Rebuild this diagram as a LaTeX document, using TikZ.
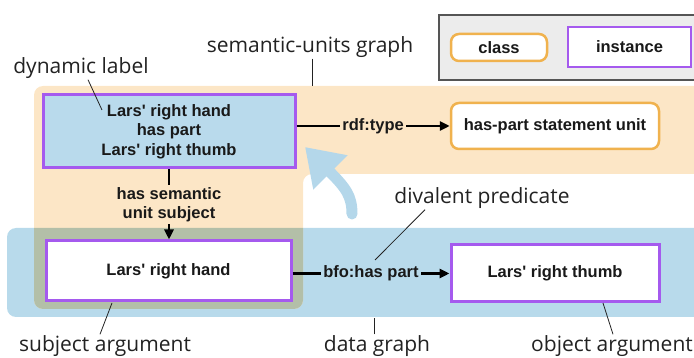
\documentclass[tikz,border=0pt]{standalone}
\usepackage{fontspec}
\setmainfont{Liberation Sans}
\newfontfamily\annfont{Open Sans}
\usetikzlibrary{arrows.meta,%
		positioning}

\definecolor{peach}{HTML}{FCE6C6}
\definecolor{datablue}{HTML}{B8DAEB}
\definecolor{overlapgreen}{HTML}{B3BFA8}
\definecolor{unitblue}{HTML}{B9DAEC}
\definecolor{instpurple}{HTML}{A55AEE}
\definecolor{classorange}{HTML}{F0B24E}
\definecolor{arrowblue}{HTML}{B4D7EA}
\definecolor{legendgrey}{HTML}{ECECEC}
\definecolor{legendedge}{HTML}{555555}
\definecolor{anntext}{HTML}{222222}

\begin{document}
\begin{tikzpicture}[x=1pt,y=-1pt,
  every node/.style={font=\fontsize{16.5}{19.5}\selectfont\bfseries,align=center,inner sep=0pt,text=black!90},
  classbox/.style={draw=classorange,line width=2.5pt,rounded corners=8pt,fill=white},
  instbox/.style={draw=instpurple,line width=3pt,fill=white},
  edgelab/.style={inner sep=2pt},
  annot/.style={font=\annfont\fontsize{21}{23}\selectfont,text=anntext,inner sep=1pt},
  leader/.style={line width=0.8pt,draw=anntext},
  linkarrow/.style={line width=2.5pt,-{Triangle[length=10pt,width=9pt]}}]

  \useasboundingbox (0,0) rectangle (694,358);
  \clip (0,0) rectangle (694,358);

  % data graph and semantic-units graph
  \fill[datablue,rounded corners=9pt] (7,228) rectangle (720,317);
  \fill[peach,rounded corners=9pt] (34,86) -- (720,86) -- (720,174) -- (303,174) -- (303,309) -- (34,309) -- cycle;
  \begin{scope}
    \clip[rounded corners=9pt] (7,228) rectangle (720,317);
    \fill[overlapgreen,rounded corners=9pt] (34,86) -- (720,86) -- (720,174) -- (303,174) -- (303,309) -- (34,309) -- cycle;
  \end{scope}

  % legend
  \draw[fill=legendgrey,draw=legendedge,line width=1.5pt] (439,15) rectangle (720,80);
  \node[classbox,minimum width=96pt,minimum height=27pt] (legclass) at (499,47.5) {class};
  \node[instbox,line width=2pt,minimum width=123pt,minimum height=40pt] (leginst) at (629.5,47) {instance};

  % curved arrow
  \draw[line width=11pt,arrowblue,line cap=round,-{Triangle[length=36pt,width=46pt]}] (352,214) .. controls (352,196) and (346,188) .. (305,147);

  % nodes
  \node[instbox,fill=unitblue,minimum width=252pt,minimum height=73pt] (sem) at (169,131.5) {Lars\textquotesingle{} right hand\\has part\\Lars\textquotesingle{} right thumb};
  \node[classbox,minimum width=208pt,minimum height=46pt] (hp) at (555,126) {has-part statement unit};
  \node[instbox,minimum width=245pt,minimum height=60pt] (hand) at (168.5,271) {Lars\textquotesingle{} right hand};
  \node[instbox,minimum width=208pt,minimum height=57pt] (thumb) at (555,273.5) {Lars\textquotesingle{} right thumb};

  % connectors
  \draw[linkarrow] (sem.east |- hp.west) -- node[edgelab,fill=peach] (rdflab) {rdf:type} (hp.west);
  \draw[linkarrow] (sem.south) -- node[edgelab,fill=peach] (sulink) {has semantic\\unit subject} (sem.south |- hand.north);
  \draw[linkarrow] (hand.east |- thumb.west) -- node[edgelab,fill=datablue] (bfolab) {bfo:has part} (thumb.west);

  % annotations
  \node[annot] (dynlab) at (81,68) {dynamic label};
  \node[annot] (sulab) at (310,47) {semantic-units graph};
  \node[annot] (divlab) at (482,198) {divalent predicate};
  \node[annot] (subjlab) at (105,346) {subject argument};
  \node[annot] (datalab) at (377,346) {data graph};
  \node[annot] (objlab) at (612,346) {object argument};
  \coordinate (dynpt) at (102,110);
  \coordinate (supt) at (312,86);
  \coordinate (divpt) at (375,260);
  \coordinate (subjpt) at (112,303);
  \coordinate (datapt) at (374,318);
  \coordinate (objpt) at (603,303);
  \draw[leader] ([xshift=7pt]dynlab.south) -- (dynpt);
  \draw[leader] (sulab.south -| supt) -- (supt);
  \draw[leader] ([xshift=-57pt]divlab.south) -- (divpt);
  \draw[leader] ([xshift=-5pt]subjlab.north) -- (subjpt);
  \draw[leader] (datalab.north -| datapt) -- (datapt);
  \draw[leader] ([xshift=1pt]objlab.north) -- (objpt);
\end{tikzpicture}
\end{document}
